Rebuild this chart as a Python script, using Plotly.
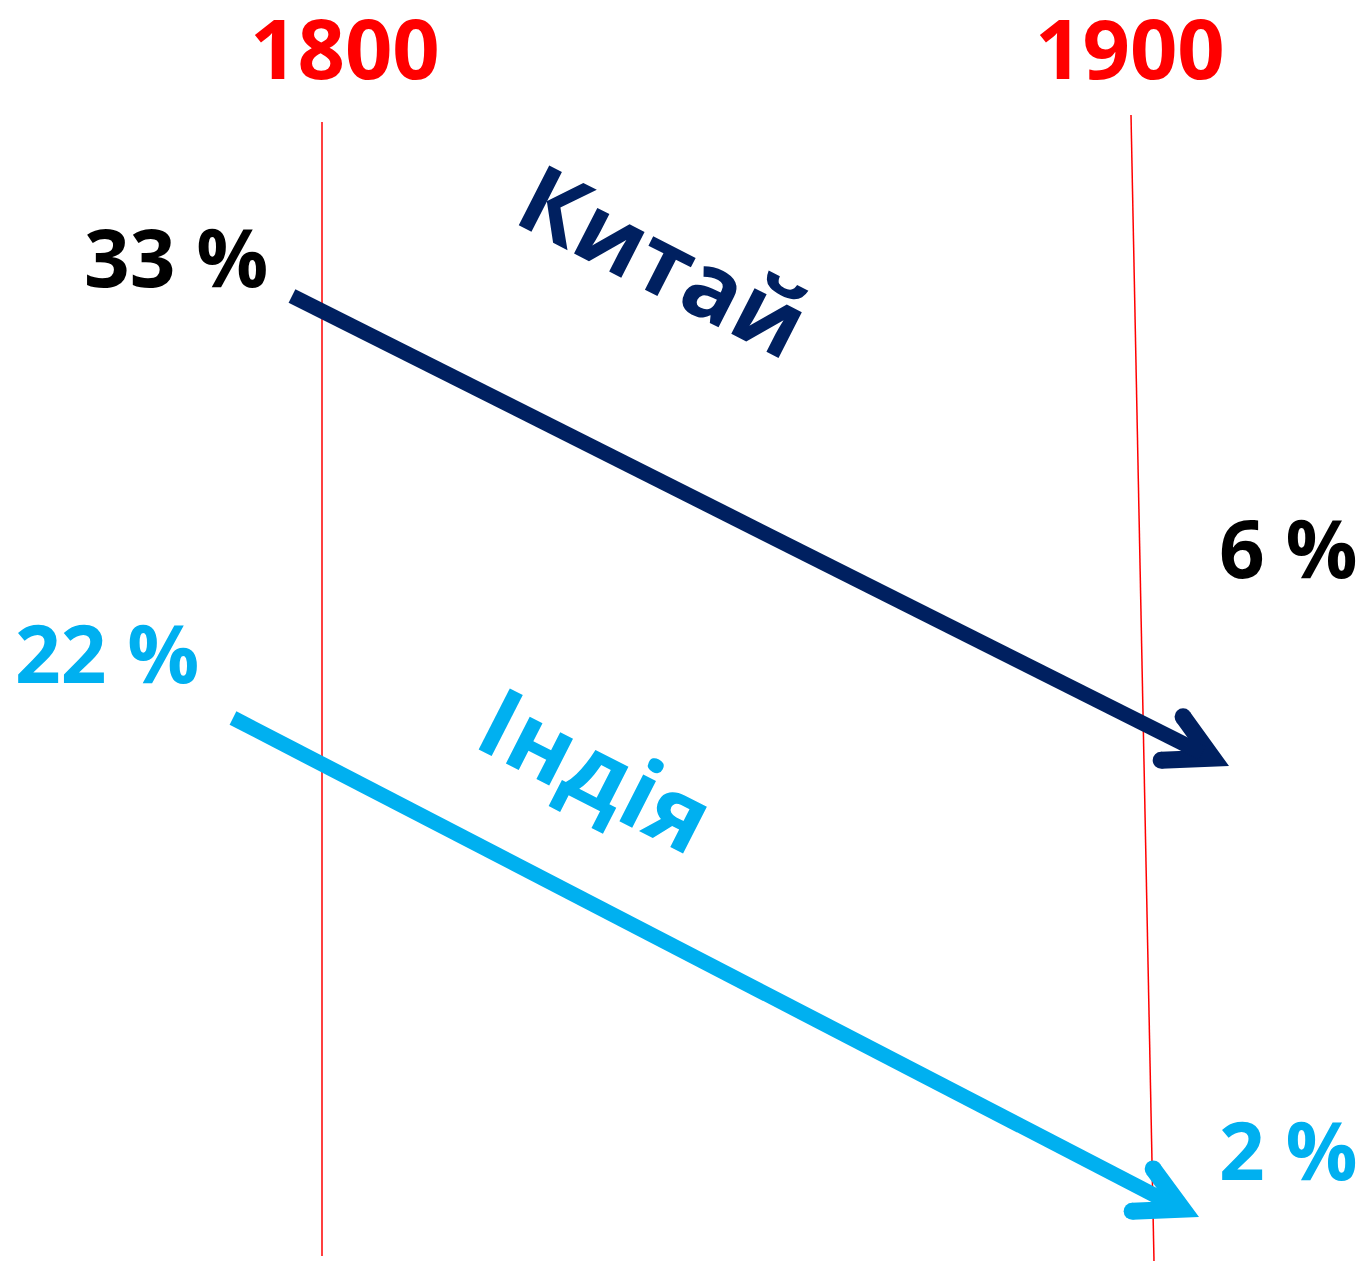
import numpy as np
import plotly.graph_objects as go

# ---- data ----
years = [1800, 1900]
countries = ["Китай", "Індія"]
share_1800 = [33, 22]   # % of world GDP
share_1900 = [6, 2]
country_colors = ["#002060", "#00B0F0"]
value_colors = ["#000000", "#00B0F0"]

# ---- layout geometry (pixel space of the 1364x1261 canvas) ----
W, H = 1364, 1261
FONT = "Open Sans"
year_line = {1800: ((322, 122), (322, 1256)), 1900: ((1131, 115), (1154, 1261))}
year_label_pos = {1800: (345, 46), 1900: (1130, 46)}
arrow_geom = [
    dict(start=(292, 296), tip=(1229, 766), w1=(1185, 705), w2=(1153, 769)),
    dict(start=(233, 718), tip=(1199, 1217), w1=(1155, 1157), w2=(1124, 1220)),
]
label_start_pos = [(176, 255), (107, 651)]
label_end_pos = [(1288, 546), (1288, 1148)]
name_pos = [(664, 259), (597, 767)]
name_size = [94, 96]
name_angle = 27
SHAFT_HW = 7.5   # half stroke width of shaft
WING_T = 17      # wing thickness


def path_from(pts):
    return "M " + " L ".join(f"{p[0]:.1f},{p[1]:.1f}" for p in pts) + " Z"


def perp_toward(u, other):
    n = np.array([-u[1], u[0]])
    if np.dot(n, other) < 0:
        n = -n
    return n


def intersect(p, d, q, e):
    A = np.array([d, -e]).T
    s, _ = np.linalg.solve(A, q - p)
    return p + s * d


fig = go.Figure()
shapes = []
annotations = []

# year lines and labels
for y in years:
    (x0, y0), (x1, y1) = year_line[y]
    shapes.append(dict(type="line", x0=x0, y0=y0, x1=x1, y1=y1,
                       line=dict(color="#FF0000", width=1.5), layer="above"))
    lx, ly = year_label_pos[y]
    annotations.append(dict(x=lx, y=ly, text=f"<b>{y}</b>", showarrow=False,
                            font=dict(family=FONT, size=83, color="#FF0000"),
                            height=90, valign="middle",
                            xanchor="center", yanchor="middle"))

for i, c in enumerate(countries):
    g = arrow_geom[i]
    col = country_colors[i]
    T = np.array(g["tip"], float)
    W1 = np.array(g["w1"], float)
    W2 = np.array(g["w2"], float)
    L1 = np.linalg.norm(W1 - T) - WING_T / 2
    L2 = np.linalg.norm(W2 - T) - WING_T / 2
    u1 = (W1 - T) / np.linalg.norm(W1 - T)
    u2 = (W2 - T) / np.linalg.norm(W2 - T)
    n1 = perp_toward(u1, u2)
    n2 = perp_toward(u2, u1)
    O1 = T + u1 * L1
    O2 = T + u2 * L2
    V = intersect(T + n1 * WING_T, u1, T + n2 * WING_T, u2)
    I1 = O1 + n1 * WING_T
    I2 = O2 + n2 * WING_T
    shapes.append(dict(type="path", path=path_from([T, O1, I1, V, I2, O2]),
                       fillcolor=col, line=dict(width=0), layer="above"))
    for O, n in ((O1, n1), (O2, n2)):
        cc = O + n * WING_T / 2
        r = WING_T / 2
        shapes.append(dict(type="circle", x0=cc[0] - r, x1=cc[0] + r, y0=cc[1] - r, y1=cc[1] + r,
                           fillcolor=col, line=dict(width=0), layer="above"))
    # shaft from start to a point just inside the notch
    S = np.array(g["start"], float)
    d = (V - S) / np.linalg.norm(V - S)
    E = V + d * 6
    n = np.array([-d[1], d[0]]) * SHAFT_HW
    shapes.append(dict(type="path", path=path_from([S + n, E + n, E - n, S - n]),
                       fillcolor=col, line=dict(width=0), layer="above"))
    # labels
    sx, sy = label_start_pos[i]
    ex, ey = label_end_pos[i]
    annotations.append(dict(x=sx, y=sy, text=f"<b>{share_1800[i]} %</b>", showarrow=False,
                            font=dict(family=FONT, size=80, color=value_colors[i]),
                            xanchor="center", yanchor="middle"))
    annotations.append(dict(x=ex, y=ey, text=f"<b>{share_1900[i]} %</b>", showarrow=False,
                            font=dict(family=FONT, size=80, color=value_colors[i]),
                            xanchor="center", yanchor="middle"))
    nx, ny = name_pos[i]
    annotations.append(dict(x=nx, y=ny, text=f"<b>{c}</b>", showarrow=False, textangle=name_angle,
                            font=dict(family=FONT, size=name_size[i], color=col),
                            xanchor="center", yanchor="middle"))

fig.update_layout(
    width=W, height=H,
    margin=dict(l=0, r=0, t=0, b=0),
    paper_bgcolor="white", plot_bgcolor="white",
    xaxis=dict(range=[0, W], visible=False, fixedrange=True),
    yaxis=dict(range=[H, 0], visible=False, fixedrange=True),
    shapes=shapes, annotations=annotations, showlegend=False,
)
fig.write_html("out.html", config={"displayModeBar": False},
               post_script="document.body.style.margin='0';")
